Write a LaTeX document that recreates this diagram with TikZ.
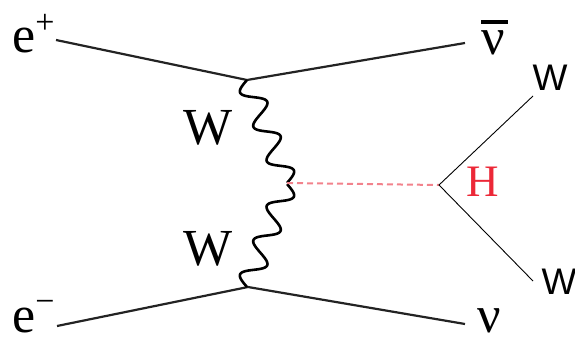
\documentclass[tikz,border=0pt]{standalone}
\usepackage{fontspec}
\setmainfont{Liberation Serif}
\newfontfamily\serifw{Liberation Serif}
\newfontfamily\sansw{Liberation Sans}
\definecolor{ferm}{RGB}{35,35,35}
\definecolor{hred}{RGB}{236,40,55}
\definecolor{hdash}{RGB}{242,130,140}
\begin{document}
\begin{tikzpicture}[x=1pt,y=-1pt,
  fermion/.style={draw=ferm,line width=2.2pt},
  boson/.style={draw=black,line width=2.6pt,line join=round},
  higgs/.style={draw=hdash,line width=2pt,dash pattern=on 6pt off 4pt},
  decay/.style={draw=black,line width=0.9pt},
  serlab/.style={inner sep=0pt,font=\serifw\fontsize{52}{52}\selectfont},
  wlab/.style={inner sep=0pt,font=\sansw\fontsize{37}{37}\selectfont}]
\useasboundingbox (0,0) rectangle (575,342);
\coordinate (vt) at (247,80);
\coordinate (vb) at (248,287);
\coordinate (vh) at (287,183);
\coordinate (ep) at (56,40);
\coordinate (em) at (57,326);
\coordinate (nb) at (465,43);
\coordinate (nu) at (465,324);
\coordinate (hv) at (439,185);
\coordinate (w1) at (533,96);
\coordinate (w2) at (533,281);
\draw[fermion] (ep) -- (vt) -- (nb);
\draw[fermion] (em) -- (vb) -- (nu);
\draw[boson] plot[domain=0:1,samples=160,smooth]
  ({247+40*\x-11*sin(1080*\x)*0.932},{80+103*\x+11*sin(1080*\x)*0.362});
\draw[boson] plot[domain=0:1,samples=160,smooth]
  ({247+40*\x-11*sin(1080*\x)*0.932},{287-103*\x-11*sin(1080*\x)*0.362});
\draw[higgs] (vh) -- (hv);
\draw[decay] (w1) -- (hv) -- (w2);
\node[serlab,anchor=base west] (lep) at (12,53) {e\raisebox{19pt}{\fontsize{34}{34}\selectfont +}};
\node[serlab,anchor=base west] (lem) at (12,332) {e\raisebox{20pt}{\fontsize{34}{34}\selectfont −}};
\node[serlab] (lw1) at (208,128) {W};
\node[serlab] (lw2) at (208,249) {W};
\node[serlab,anchor=base west] (lnb) at (481,55) {\makebox[0pt][l]{\raisebox{31pt}{\rule{27pt}{3.5pt}}}ν};
\node[serlab,anchor=base west] (lnu) at (477,332) {ν};
\node[serlab,text=hred,font=\serifw\fontsize{45}{45}\selectfont] (lh) at (483,182) {H};
\node[wlab] (lwa) at (550,78) {W};
\node[wlab] (lwb) at (559,282) {W};
\end{tikzpicture}
\end{document}
